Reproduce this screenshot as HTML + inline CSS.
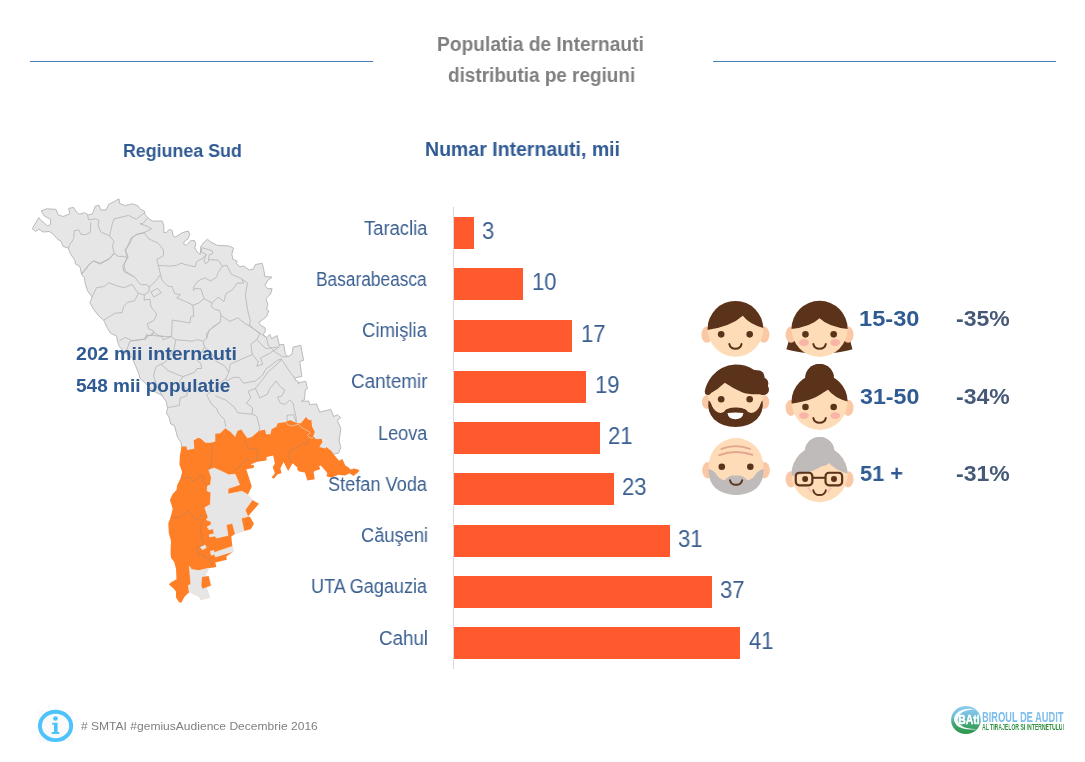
<!DOCTYPE html>
<html lang="ro">
<head>
<meta charset="utf-8">
<title>Populatia de Internauti - distributia pe regiuni</title>
<style>
html,body{margin:0;padding:0;background:#fff;}
body{width:1085px;height:762px;position:relative;overflow:hidden;font-family:"Liberation Sans",sans-serif;}
.t{position:absolute;margin:0;padding:0;white-space:nowrap;transform-origin:0 50%;font-weight:normal;will-change:transform;}
h1.t,h2.t{font-weight:bold;}
.rule{position:absolute;height:1px;background:#4a7ebb;}
.axis{position:absolute;width:1px;background:#d9d9d9;}
.bar{position:absolute;background:#ff5a2d;}
svg{position:absolute;left:0;top:0;overflow:visible;}
</style>
</head>
<body>
<header>
<div class="rule" style="left:30px;width:343px;top:61px"></div>
<div class="rule" style="left:713px;width:343px;top:61px"></div>
<h1 class="t" style="left:436.73px;top:31.54px;font-size:19.5px;line-height:25px;color:#7f7f7f;transform:scaleX(0.9844);font-weight:bold;">Populatia de Internauti</h1>
<h1 class="t" style="left:448.02px;top:63.24px;font-size:19.5px;line-height:25px;color:#7f7f7f;transform:scaleX(0.9707);font-weight:bold;">distributia pe regiuni</h1>
</header>
<h2 class="t" style="left:123.02px;top:138.05px;font-size:19.2px;line-height:25px;color:#2f5a92;transform:scaleX(0.9284);font-weight:bold;">Regiunea Sud</h2>
<h2 class="t" style="left:424.71px;top:136.51px;font-size:19.6px;line-height:25px;color:#2f5a92;transform:scaleX(0.9950);font-weight:bold;">Numar Internauti, mii</h2>
<section class="chart">
<div class="axis" style="left:453px;top:207px;height:462px"></div>
<div class="bar" style="left:453.6px;top:217.00px;width:20.30px;height:32px"></div>
<div class="t lab" style="left:363.59px;top:215.61px;font-size:19.6px;line-height:25px;color:#3a5f90;transform:scaleX(0.9400);">Taraclia</div>
<div class="t val" style="left:482.06px;top:216.13px;font-size:23px;line-height:30px;color:#3a5f90;transform:scaleX(0.9600);">3</div>
<div class="bar" style="left:453.6px;top:268.25px;width:69.85px;height:32px"></div>
<div class="t lab" style="left:316.38px;top:266.86px;font-size:19.6px;line-height:25px;color:#3a5f90;transform:scaleX(0.8835);">Basarabeasca</div>
<div class="t val" style="left:531.97px;top:267.38px;font-size:23px;line-height:30px;color:#3a5f90;transform:scaleX(0.9600);">10</div>
<div class="bar" style="left:453.6px;top:319.50px;width:118.75px;height:32px"></div>
<div class="t lab" style="left:362.07px;top:318.11px;font-size:19.6px;line-height:25px;color:#3a5f90;transform:scaleX(0.9477);">Cimişlia</div>
<div class="t val" style="left:580.87px;top:318.63px;font-size:23px;line-height:30px;color:#3a5f90;transform:scaleX(0.9600);">17</div>
<div class="bar" style="left:453.6px;top:370.75px;width:132.72px;height:32px"></div>
<div class="t lab" style="left:350.86px;top:369.36px;font-size:19.6px;line-height:25px;color:#3a5f90;transform:scaleX(0.9626);">Cantemir</div>
<div class="t val" style="left:594.84px;top:369.88px;font-size:23px;line-height:30px;color:#3a5f90;transform:scaleX(0.9600);">19</div>
<div class="bar" style="left:453.6px;top:422.00px;width:146.69px;height:32px"></div>
<div class="t lab" style="left:377.82px;top:420.61px;font-size:19.6px;line-height:25px;color:#3a5f90;transform:scaleX(0.9227);">Leova</div>
<div class="t val" style="left:608.18px;top:421.13px;font-size:23px;line-height:30px;color:#3a5f90;transform:scaleX(0.9600);">21</div>
<div class="bar" style="left:453.6px;top:473.25px;width:160.66px;height:32px"></div>
<div class="t lab" style="left:327.98px;top:471.86px;font-size:19.6px;line-height:25px;color:#3a5f90;transform:scaleX(0.9279);">Stefan Voda</div>
<div class="t val" style="left:622.15px;top:472.38px;font-size:23px;line-height:30px;color:#3a5f90;transform:scaleX(0.9600);">23</div>
<div class="bar" style="left:453.6px;top:524.50px;width:216.53px;height:32px"></div>
<div class="t lab" style="left:361.29px;top:523.11px;font-size:19.6px;line-height:25px;color:#3a5f90;transform:scaleX(0.9322);">Căuşeni</div>
<div class="t val" style="left:678.30px;top:523.63px;font-size:23px;line-height:30px;color:#3a5f90;transform:scaleX(0.9600);">31</div>
<div class="bar" style="left:453.6px;top:575.75px;width:258.44px;height:32px"></div>
<div class="t lab" style="left:311.01px;top:574.36px;font-size:19.6px;line-height:25px;color:#3a5f90;transform:scaleX(0.9211);">UTA Gagauzia</div>
<div class="t val" style="left:720.21px;top:574.88px;font-size:23px;line-height:30px;color:#3a5f90;transform:scaleX(0.9600);">37</div>
<div class="bar" style="left:453.6px;top:627.00px;width:286.38px;height:32px"></div>
<div class="t lab" style="left:379.26px;top:625.61px;font-size:19.6px;line-height:25px;color:#3a5f90;transform:scaleX(0.9583);">Cahul</div>
<div class="t val" style="left:748.50px;top:626.13px;font-size:23px;line-height:30px;color:#3a5f90;transform:scaleX(0.9600);">41</div>
</section>
<section class="demo">
<div class="t" style="left:859.44px;top:304.34px;font-size:22.4px;line-height:29px;color:#2f5a92;transform:scaleX(1.0547);font-weight:bold;">15-30</div>
<div class="t" style="left:955.90px;top:304.34px;font-size:22.4px;line-height:29px;color:#465a78;transform:scaleX(1.0270);font-weight:bold;">-35%</div>
<div class="t" style="left:860.39px;top:381.94px;font-size:22.4px;line-height:29px;color:#2f5a92;transform:scaleX(1.0378);font-weight:bold;">31-50</div>
<div class="t" style="left:955.90px;top:381.94px;font-size:22.4px;line-height:29px;color:#465a78;transform:scaleX(1.0270);font-weight:bold;">-34%</div>
<div class="t" style="left:860.25px;top:458.54px;font-size:22.4px;line-height:29px;color:#2f5a92;transform:scaleX(0.9707);font-weight:bold;">51 +</div>
<div class="t" style="left:955.90px;top:458.54px;font-size:22.4px;line-height:29px;color:#465a78;transform:scaleX(1.0270);font-weight:bold;">-31%</div>
<svg class="faces" width="1085" height="762" viewBox="0 0 1085 762">
<defs>
<clipPath id="fc0"><circle cx="258" cy="248" r="178"/></clipPath>
<clipPath id="fc1"><circle cx="795" cy="248" r="179"/></clipPath>
<clipPath id="fc2"><circle cx="795" cy="267" r="179"/></clipPath>
<clipPath id="fc3"><circle cx="795" cy="282" r="179"/></clipPath>
</defs>
<g transform="translate(695,290) scale(0.15669)"><ellipse cx="76" cy="285" rx="35" ry="52" fill="#fbc8a5"/><ellipse cx="440" cy="285" rx="35" ry="52" fill="#fbc8a5"/><circle cx="258" cy="248" r="178" fill="#fedcb7"/><path clip-path="url(#fc0)" d="M60,258 Q225,238 305,165 Q355,228 460,248 L460,40 L60,40 Z" fill="#5b321a"/><circle cx="167" cy="283" r="21" fill="#5b321a"/><circle cx="349" cy="283" r="21" fill="#5b321a"/><path d="M219,345 Q225,375 258,375 Q291,375 297,345" fill="none" stroke="#5b321a" stroke-width="12.5" stroke-linecap="round"/></g>
<g transform="translate(695,290) scale(0.15669)"><path d="M612,235 Q604,320 583,378 Q640,396 720,402 L720,250 Z" fill="#5b321a"/><path d="M978,235 Q986,320 1005,378 Q950,396 870,402 L870,250 Z" fill="#5b321a"/><ellipse cx="613" cy="285" rx="35" ry="52" fill="#fbc8a5"/><ellipse cx="977" cy="285" rx="35" ry="52" fill="#fbc8a5"/><circle cx="795" cy="248" r="179" fill="#fedcb7"/><path clip-path="url(#fc1)" d="M600,250 Q735,238 795,180 Q855,238 990,250 L990,40 L600,40 Z" fill="#5b321a"/><ellipse cx="695" cy="335" rx="31" ry="22" fill="#f9b4a8"/><ellipse cx="895" cy="335" rx="31" ry="22" fill="#f9b4a8"/><circle cx="705" cy="283" r="21" fill="#5b321a"/><circle cx="885" cy="283" r="21" fill="#5b321a"/><path d="M755,345 Q761,375 795,375 Q829,375 835,345" fill="none" stroke="#5b321a" stroke-width="12.5" stroke-linecap="round"/></g>
<g transform="translate(695,360) scale(0.15669)"><ellipse cx="78" cy="268" rx="34" ry="45" fill="#fbc8a5"/><ellipse cx="440" cy="268" rx="34" ry="45" fill="#fbc8a5"/><circle cx="258" cy="240" r="176" fill="#fedcb7"/><path d="M86,258 Q98,262 110,296 Q130,336 165,338 Q186,336 198,316 Q226,301 260,303 Q294,301 324,316 Q336,336 357,338 Q392,336 412,296 Q424,262 432,258 Q440,330 395,378 Q340,428 258,428 Q176,428 121,378 Q76,330 86,258 Z" fill="#5b321a"/><path d="M207,338 Q258,332 309,338 Q303,378 258,378 Q213,378 207,338 Z" fill="#ffffff"/><path d="M62,202 Q70,150 110,100 Q165,35 255,28 Q330,28 375,62 Q410,66 425,98 Q450,118 454,152 Q474,178 466,204 Q452,226 420,218 Q340,222 300,206 Q235,176 190,145 Q150,185 100,212 Q74,224 64,204 Z" fill="#5b321a"/><circle cx="402" cy="108" r="42" fill="#5b321a"/><circle cx="428" cy="150" r="40" fill="#5b321a"/><circle cx="436" cy="188" r="36" fill="#5b321a"/><circle cx="82" cy="204" r="19" fill="#5b321a"/><circle cx="167" cy="250" r="21" fill="#5b321a"/><circle cx="349" cy="250" r="21" fill="#5b321a"/></g>
<g transform="translate(695,360) scale(0.15669)"><circle cx="795" cy="116" r="91" fill="#5b321a"/><ellipse cx="613" cy="305" rx="35" ry="52" fill="#fbc8a5"/><ellipse cx="977" cy="305" rx="35" ry="52" fill="#fbc8a5"/><circle cx="795" cy="267" r="179" fill="#fedcb7"/><path clip-path="url(#fc2)" d="M600,280 Q770,262 845,185 Q895,250 990,268 L990,60 L600,60 Z" fill="#5b321a"/><circle cx="795" cy="116" r="91" fill="#5b321a"/><ellipse cx="695" cy="355" rx="31" ry="22" fill="#f9b4a8"/><ellipse cx="895" cy="355" rx="31" ry="22" fill="#f9b4a8"/><circle cx="705" cy="300" r="21" fill="#5b321a"/><circle cx="885" cy="300" r="21" fill="#5b321a"/><path d="M755,370 Q761,400 795,400 Q829,400 835,370" fill="none" stroke="#5b321a" stroke-width="12.5" stroke-linecap="round"/></g>
<g transform="translate(695,430) scale(0.15669)"><ellipse cx="81" cy="257" rx="35" ry="52" fill="#fbc8a5"/><ellipse cx="443" cy="257" rx="35" ry="52" fill="#fbc8a5"/><ellipse cx="262" cy="232" rx="175" ry="181" fill="#fedcb7"/><path d="M86,250 Q112,252 130,275 Q160,322 188,320 Q210,296 235,290 L289,290 Q314,296 336,320 Q364,322 394,275 Q412,252 438,250 Q440,322 395,370 Q340,415 262,415 Q184,415 129,370 Q84,322 86,250 Z" fill="#bfbbba"/><path d="M168,121 Q260,85 351,120" fill="none" stroke="#e0a690" stroke-width="12" stroke-linecap="round"/><path d="M155,160 Q260,121 366,158" fill="none" stroke="#e0a690" stroke-width="12" stroke-linecap="round"/><circle cx="171" cy="235" r="21" fill="#5b321a"/><circle cx="353" cy="235" r="21" fill="#5b321a"/><path d="M223,320 Q229,350 262,350 Q295,350 301,320" fill="none" stroke="#5b321a" stroke-width="12.5" stroke-linecap="round"/></g>
<g transform="translate(695,430) scale(0.15669)"><circle cx="795" cy="139" r="94" fill="#bfbbba"/><rect x="706" y="139" width="178" height="60" fill="#bfbbba"/><ellipse cx="613" cy="315" rx="35" ry="52" fill="#fbc8a5"/><ellipse cx="977" cy="315" rx="35" ry="52" fill="#fbc8a5"/><circle cx="795" cy="282" r="179" fill="#fedcb7"/><path clip-path="url(#fc3)" d="M600,295 Q770,278 845,200 Q895,262 990,282 L990,60 L600,60 Z" fill="#bfbbba"/><circle cx="795" cy="139" r="94" fill="#bfbbba"/><rect x="706" y="139" width="178" height="60" fill="#bfbbba"/><path d="M722,372 Q735,380 740,398" fill="none" stroke="#f9b4a8" stroke-width="7" stroke-linecap="round"/><path d="M868,372 Q855,380 850,398" fill="none" stroke="#f9b4a8" stroke-width="7" stroke-linecap="round"/><circle cx="703" cy="313" r="19" fill="#5b321a"/><circle cx="887" cy="313" r="19" fill="#5b321a"/><rect x="643" y="273" width="106" height="80" rx="22" fill="none" stroke="#5b321a" stroke-width="14"/><rect x="833" y="273" width="106" height="80" rx="22" fill="none" stroke="#5b321a" stroke-width="14"/><path d="M750,305 L832,305" stroke="#5b321a" stroke-width="13"/><path d="M755,385 Q761,415 795,415 Q829,415 835,385" fill="none" stroke="#5b321a" stroke-width="12.5" stroke-linecap="round"/></g>
</svg>
</section>
<section class="map">
<svg class="mapsvg" width="1085" height="762" viewBox="0 0 1085 762">
<polygon points="32.2,228.7 38.8,217.7 41.1,220.4 44.4,223.2 47.7,226.0 50.5,224.3 50.5,219.3 44.4,216.0 41.1,211.0 46.6,208.8 56.0,209.4 58.2,214.9 63.2,216.5 69.8,213.8 68.7,208.3 73.7,207.5 76.5,212.1 79.2,214.3 84.2,212.7 88.6,214.9 92.5,213.8 95.3,206.0 99.1,205.5 100.8,209.9 106.3,209.9 108.5,204.4 114.1,201.6 119.0,198.8 119.6,203.3 125.1,205.5 132.9,203.8 137.9,206.0 140.6,209.4 144.4,211.1 145.0,214.4 147.7,217.7 152.2,221.0 162.1,221.0 163.8,225.4 163.8,232.6 166.5,232.6 169.3,229.3 172.1,230.4 173.2,236.0 175.4,237.1 182.6,232.6 188.1,231.0 189.8,234.3 188.1,238.7 184.2,241.5 183.7,244.2 186.5,245.4 190.3,240.9 194.2,240.4 195.9,243.7 194.8,247.6 197.0,252.0 200.3,254.2 200.8,246.5 204.2,242.0 207.5,239.3 210.8,242.0 217.4,245.4 228.5,245.9 233.5,248.1 231.8,254.2 232.9,259.2 237.3,261.4 236.2,263.6 240.1,266.9 243.4,265.8 249.5,270.2 253.6,268.8 255.3,264.5 262.2,263.3 263.8,269.9 264.9,276.5 272.1,277.1 267.7,280.4 264.9,285.4 267.7,288.7 272.1,288.7 270.5,294.2 266.0,298.7 267.7,304.2 266.6,309.7 268.8,310.8 266.6,316.4 258.8,322.5 261.0,325.5 265.0,327.7 265.4,331.6 263.2,334.4 266.5,337.7 269.9,334.4 271.5,338.8 277.1,335.5 279.3,344.9 283.7,344.3 285.4,354.3 288.1,356.5 292.0,354.3 293.1,347.1 300.8,345.4 303.6,360.4 299.7,361.5 301.9,376.4 294.8,378.1 295.3,380.3 298.1,381.4 298.6,384.2 299.2,382.5 305.8,381.4 307.5,388.6 305.3,389.7 304.5,399.5 301.5,401.2 308.7,401.1 309.8,404.9 316.4,403.8 319.7,412.1 330.8,409.4 333.6,416.5 337.4,414.9 340.8,417.7 337.4,420.4 340.8,428.7 339.1,440.9 340.8,447.5 338.5,453.1 333.6,454.2 318.0,456.0 300.0,452.0 260.0,450.0 200.0,453.0 184.0,453.0 181.6,446.5 181.0,442.1 177.7,437.7 174.4,425.5 170.8,424.0 169.1,417.4 166.4,413.0 167.5,408.6 166.4,401.9 161.9,395.3 155.3,392.0 148.7,386.5 144.2,382.0 139.8,378.2 138.7,373.2 135.4,365.4 132.1,357.7 125.4,353.3 119.4,346.6 117.5,341.5 116.4,335.8 110.9,333.6 107.6,328.6 103.7,320.3 98.2,315.3 93.2,308.7 89.9,302.6 92.1,297.1 87.7,291.0 85.4,284.3 84.3,277.7 81.6,274.4 79.9,266.6 75.5,263.9 74.9,260.5 70.3,253.6 68.2,248.1 63.2,246.4 61.0,241.4 57.1,238.7 53.2,234.2 49.4,231.5 43.3,232.0 38.8,229.3 35.5,231.5" fill="#e6e6e6" stroke="#b3b3b3" stroke-width="0.9" stroke-linejoin="round"/>
<polyline points="87.5,214.9 88.6,219.9 95.3,218.8 99.1,220.4 98.0,225.4 100.8,232.0 109.6,235.9 114.1,241.4 112.4,245.3 114.1,253.6 109.6,258.0 103.0,262.5 99.7,264.1 93.6,260.8 87.5,266.3 82.0,273.0" fill="none" stroke="#b4b4b4" stroke-width="0.8" stroke-linejoin="round"/>
<polyline points="90.8,222.1 90.3,232.6 85.3,234.8 80.9,234.2 78.7,229.8 74.2,230.9 73.7,238.7 69.3,245.3 68.6,248.5" fill="none" stroke="#b4b4b4" stroke-width="0.8" stroke-linejoin="round"/>
<polyline points="109.6,235.9 111.9,225.4 114.1,218.8 121.8,217.1 128.5,215.4 136.2,219.3 144.5,212.7" fill="none" stroke="#b4b4b4" stroke-width="0.8" stroke-linejoin="round"/>
<polyline points="114.1,253.6 118.5,256.4 124.0,256.4 127.3,257.5 124.0,265.2 125.1,270.8 129.6,274.0 134.7,277.2" fill="none" stroke="#b4b4b4" stroke-width="0.8" stroke-linejoin="round"/>
<polyline points="127.3,257.5 125.1,249.7 129.6,244.2 132.3,237.6 137.3,234.2 143.9,232.6 145.0,232.1 151.6,228.8" fill="none" stroke="#b4b4b4" stroke-width="0.8" stroke-linejoin="round"/>
<polyline points="147.7,217.7 143.3,223.2 140.0,223.8 146.6,226.0 151.6,228.8" fill="none" stroke="#b4b4b4" stroke-width="0.8" stroke-linejoin="round"/>
<polyline points="144.2,233.0 148.7,238.8 158.3,243.3 163.4,249.9 163.4,255.8 156.8,259.5 158.3,265.4 160.5,274.2 155.3,281.6 149.4,286.8 146.5,284.6 140.6,284.6 134.7,277.2 123.6,271.3 122.9,265.4 128.0,257.3 125.8,250.6 131.0,238.1 136.9,234.4 144.2,233.0" fill="none" stroke="#b4b4b4" stroke-width="0.8" stroke-linejoin="round"/>
<polyline points="144.2,233.0 145.0,232.1" fill="none" stroke="#b4b4b4" stroke-width="0.8" stroke-linejoin="round"/>
<polyline points="158.3,265.4 169.3,266.1 176.7,265.4 181.1,263.2 188.5,265.4 195.1,266.9 196.6,261.7 203.2,258.0 206.2,254.3" fill="none" stroke="#b4b4b4" stroke-width="0.8" stroke-linejoin="round"/>
<polyline points="206.2,254.3 201.2,252.0 201.8,247.7 212.1,250.6 212.8,253.6 209.1,255.1 208.4,261.7 205.5,263.9 204.0,260.2 206.2,254.3" fill="none" stroke="#b4b4b4" stroke-width="0.8" stroke-linejoin="round"/>
<polyline points="209.1,259.5 218.0,260.2 222.4,266.1 226.8,265.4 231.3,274.2 241.6,278.7 247.5,283.1 245.3,294.9 247.5,309.6 250.4,321.4 249.0,325.9 260.0,333.2 266.5,337.7" fill="none" stroke="#b4b4b4" stroke-width="0.8" stroke-linejoin="round"/>
<polyline points="222.4,266.1 218.0,272.8 216.5,277.2 210.6,280.9 204.7,277.9 198.1,280.9 193.7,286.8 193.7,290.5 195.1,288.3 201.0,289.0 204.0,298.6" fill="none" stroke="#b4b4b4" stroke-width="0.8" stroke-linejoin="round"/>
<polyline points="160.5,274.2 161.9,280.1 167.8,286.0 172.3,286.8 174.5,293.4 180.4,294.9 176.7,297.8 185.5,301.5 192.9,305.2 198.8,303.0 204.0,298.6 212.1,303.0 218.0,297.1 223.9,301.5 226.1,293.4 232.7,289.7 237.2,283.1 243.8,283.1 241.6,278.7" fill="none" stroke="#b4b4b4" stroke-width="0.8" stroke-linejoin="round"/>
<polyline points="212.1,303.0 211.4,306.7 215.0,309.6 219.5,310.4 220.9,315.5 229.8,321.4 237.9,317.8 245.3,323.7 249.0,325.9" fill="none" stroke="#b4b4b4" stroke-width="0.8" stroke-linejoin="round"/>
<polyline points="192.9,305.2 193.7,316.3 190.7,317.0 190.0,322.9 172.3,320.0 171.5,336.2" fill="none" stroke="#b4b4b4" stroke-width="0.8" stroke-linejoin="round"/>
<polyline points="220.9,315.5 220.2,322.2 209.1,330.3 206.7,338.3" fill="none" stroke="#b4b4b4" stroke-width="0.8" stroke-linejoin="round"/>
<polyline points="149.4,286.8 148.7,291.9 144.2,294.9 144.2,300.1 150.1,299.3 150.9,306.7 156.8,314.1 153.8,320.7 147.2,323.7 148.7,328.8 153.8,331.0 152.4,335.5 161.9,336.2 163.4,339.9 171.5,336.2" fill="none" stroke="#b4b4b4" stroke-width="0.8" stroke-linejoin="round"/>
<polyline points="150.9,291.9 157.5,288.3 161.2,292.7 153.8,297.1 150.9,291.9" fill="none" stroke="#b4b4b4" stroke-width="0.8" stroke-linejoin="round"/>
<polyline points="92.1,297.1 96.5,287.7 104.2,286.5 108.7,282.7 117.5,286.0 124.2,287.7 131.9,284.3 138.0,293.2 144.2,294.9" fill="none" stroke="#b4b4b4" stroke-width="0.8" stroke-linejoin="round"/>
<polyline points="138.3,293.4 134.7,300.8 127.3,302.3 123.6,306.7 122.1,312.6 114.7,313.3 103.7,320.3" fill="none" stroke="#b4b4b4" stroke-width="0.8" stroke-linejoin="round"/>
<polyline points="93.2,260.8 100.0,263.2 108.8,259.5 114.0,253.6" fill="none" stroke="#b4b4b4" stroke-width="0.8" stroke-linejoin="round"/>
<polyline points="81.6,274.4 86.5,268.8 88.8,264.4 93.6,260.8" fill="none" stroke="#b4b4b4" stroke-width="0.8" stroke-linejoin="round"/>
<polyline points="152.4,335.5 146.5,335.5 145.7,339.1 132.4,340.6 125.0,337.5 119.2,341.0" fill="none" stroke="#b4b4b4" stroke-width="0.8" stroke-linejoin="round"/>
<polyline points="125.4,353.3 130.0,341.2 144.7,339.0 147.0,333.8" fill="none" stroke="#b4b4b4" stroke-width="0.8" stroke-linejoin="round"/>
<polyline points="144.7,339.0 153.6,332.4 159.5,336.1 171.3,336.8" fill="none" stroke="#b4b4b4" stroke-width="0.8" stroke-linejoin="round"/>
<polyline points="171.3,336.8 175.7,339.7 191.9,341.2 197.8,339.7 203.0,341.2 206.7,338.3 206.7,333.1 212.6,327.2 220.2,322.2" fill="none" stroke="#b4b4b4" stroke-width="0.8" stroke-linejoin="round"/>
<polyline points="203.0,341.2 204.5,347.1 209.6,351.5 217.0,361.9 224.4,365.6 228.8,372.2 225.9,378.8 227.3,381.0" fill="none" stroke="#b4b4b4" stroke-width="0.8" stroke-linejoin="round"/>
<polyline points="175.7,339.7 174.2,348.6 165.4,361.9 161.0,364.1 155.8,367.0 153.6,375.9 157.3,386.9 163.0,397.0" fill="none" stroke="#b4b4b4" stroke-width="0.8" stroke-linejoin="round"/>
<polyline points="161.0,364.1 168.3,370.7 178.7,375.1 183.1,376.6 194.9,372.2 197.1,368.5 201.5,368.5 200.8,363.3 197.1,360.4 204.5,347.1" fill="none" stroke="#b4b4b4" stroke-width="0.8" stroke-linejoin="round"/>
<polyline points="183.1,376.6 179.4,381.8 187.5,389.9 186.8,395.8 180.1,398.0 179.4,405.4 168.3,407.6" fill="none" stroke="#b4b4b4" stroke-width="0.8" stroke-linejoin="round"/>
<polyline points="225.9,378.8 218.5,384.0 212.6,389.9 206.7,395.1 211.9,404.6 217.0,409.1 218.5,413.5 224.4,419.4 225.9,426.8" fill="none" stroke="#b4b4b4" stroke-width="0.8" stroke-linejoin="round"/>
<polyline points="227.3,381.0 233.2,377.4 239.1,377.4 243.6,383.3 255.4,381.0 262.7,375.1 265.7,369.2 277.5,360.4 281.2,358.9 279.5,362.0 268.0,372.0 263.0,379.0 255.4,388.4" fill="none" stroke="#b4b4b4" stroke-width="0.8" stroke-linejoin="round"/>
<polyline points="215.5,395.8 225.9,400.2 234.7,407.6 237.7,412.8 252.4,414.2 256.8,416.4 259.8,428.2 258.3,432.0" fill="none" stroke="#b4b4b4" stroke-width="0.8" stroke-linejoin="round"/>
<polyline points="252.4,414.2 252.4,407.6 246.5,403.2 250.9,397.3 248.0,391.4 255.4,388.4 259.8,398.0 267.2,394.3 270.1,388.4 276.0,381.0 280.4,386.9 284.9,389.9 281.9,395.8 277.5,397.3 280.4,403.2 284.9,404.4 289.9,400.0 293.2,403.3 294.3,409.9 296.0,416.5 296.5,422.6" fill="none" stroke="#b4b4b4" stroke-width="0.8" stroke-linejoin="round"/>
<polyline points="249.5,325.0 259.8,333.8 256.8,339.7 250.9,344.2 252.4,354.5 258.3,361.9 256.8,366.3 262.7,364.1 260.5,358.2 270.1,353.0 279.0,347.1 279.3,344.9" fill="none" stroke="#b4b4b4" stroke-width="0.8" stroke-linejoin="round"/>
<polyline points="256.8,339.7 265.7,348.6 277.5,347.1" fill="none" stroke="#b4b4b4" stroke-width="0.8" stroke-linejoin="round"/>
<polyline points="252.4,354.5 230.3,364.1 228.8,372.2" fill="none" stroke="#b4b4b4" stroke-width="0.8" stroke-linejoin="round"/>
<polyline points="287.1,422.1 287.1,415.4 293.7,414.6 296.0,422.1" fill="none" stroke="#b4b4b4" stroke-width="0.8" stroke-linejoin="round"/>
<polyline points="266.5,337.7 268.0,345.0 275.0,352.0 283.0,357.0 288.1,356.5" fill="none" stroke="#b4b4b4" stroke-width="0.8" stroke-linejoin="round"/>
<polyline points="281.2,358.9 290.0,372.0 294.8,378.1" fill="none" stroke="#b4b4b4" stroke-width="0.8" stroke-linejoin="round"/>
<polygon points="181.6,446.5 186.5,446.5 187.1,449.9 194.3,448.8 193.7,440.5 198.2,437.7 200.9,438.8 205.4,442.7 211.4,442.7 215.3,441.6 215.3,433.8 220.3,433.3 225.3,428.3 230.8,432.2 235.2,437.1 237.4,431.1 241.3,429.4 244.1,433.8 247.4,438.3 251.8,437.1 257.3,432.2 260.0,430.4 265.0,429.8 266.1,434.2 270.5,434.2 271.6,429.3 276.6,426.5 277.7,423.2 286.0,422.1 287.7,421.0 290.3,420.3 293.2,421.5 297.1,423.2 300.9,423.2 304.2,419.3 305.9,417.1 308.7,419.9 311.4,419.9 312.0,426.5 314.8,432.0 313.1,436.5 316.4,439.2 321.4,438.7 322.5,442.0 319.2,447.0 325.3,448.6 326.4,447.0 331.9,451.4 333.6,454.2 339.1,460.8 342.4,459.1 345.2,465.2 348.5,467.4 350.7,469.6 354.0,468.5 357.9,469.6 359.6,470.6 357.9,472.6 353.4,476.0 349.6,473.2 345.1,475.4 338.5,474.8 331.9,477.6 328.0,477.1 326.3,475.4 327.4,473.2 325.2,470.4 320.8,465.4 319.1,466.0 320.2,469.3 314.7,471.0 313.6,472.1 314.7,479.3 307.5,480.4 304.8,472.6 299.2,471.5 297.0,469.3 297.6,467.7 292.6,463.2 288.2,471.0 286.5,467.7 283.7,462.1 280.4,468.2 281.5,473.2 277.7,474.3 273.8,478.7 271.6,477.6 274.9,473.2 272.7,467.1 274.9,463.8 273.2,455.5 266.6,457.1 266.4,460.4 257.0,461.7 250.5,464.6 254.0,465.3 253.8,468.0 246.3,469.2 251.8,486.4 247.9,494.7 252.3,500.0 259.0,503.8 247.9,516.5 250.1,517.1 254.0,523.7 250.7,529.3 244.0,530.9 235.2,533.7 231.3,536.5 232.4,546.4 233.5,551.4 226.3,556.4 226.9,559.7 215.3,562.5 216.4,566.9 213.1,567.4 208.6,568.3 205.3,576.0 208.6,576.0 211.4,585.4 206.4,587.6 209.7,597.6 200.9,599.8 199.2,596.5 189.3,592.0 184.3,597.0 181.5,602.5 179.3,602.5 176.0,597.6 176.0,591.5 173.8,588.7 168.8,584.3 171.6,582.1 176.5,579.3 176.0,568.8 174.3,562.2 171.0,557.7 170.5,551.9 171.0,540.9 168.8,533.1 168.3,523.2 170.5,517.7 172.7,508.8 169.9,500.0 172.7,493.9 176.5,490.0 177.1,485.3 180.5,478.6 182.1,472.0 179.4,464.2 179.9,455.4" fill="#ff7f27"/>
<polygon points="208.7,469.8 214.2,468.1 221.9,471.4 228.6,474.8 235.2,474.2 239.6,484.7 228.0,488.6 228.0,494.1 241.9,491.3 247.9,494.7 252.3,500.0 245.1,509.9 247.9,516.5 241.3,518.2 244.0,530.9 235.2,533.7 232.4,523.2 226.3,524.8 228.0,535.4 216.4,538.1 215.3,535.9 209.7,537.0 209.2,534.8 214.2,533.7 213.1,528.7 209.2,529.8 207.0,527.1 211.4,524.3 210.8,521.5 206.4,519.9 208.1,517.1 204.8,507.7 210.3,504.4 210.9,492.5 207.0,490.8 207.6,485.8 210.3,485.3 211.4,477.5" fill="#e6e6e6" stroke="#efefef" stroke-width="0.6"/>
<polygon points="232.4,546.4 233.5,551.4 215.3,556.9 214.2,552.5" fill="#e6e6e6" stroke="#efefef" stroke-width="0.6"/>
<polygon points="210.3,551.4 213.6,550.3 214.2,554.2 211.4,555.3" fill="#e6e6e6" stroke="#efefef" stroke-width="0.6"/>
<polygon points="200.3,547.0 204.8,544.8 206.4,547.5 202.5,549.7" fill="#e6e6e6" stroke="#efefef" stroke-width="0.6"/>
<polygon points="189.3,566.0 191.5,569.4 198.7,570.5 208.6,568.3 205.3,576.0 208.6,576.0 211.4,585.4 206.4,587.6 209.7,597.6 200.9,599.8 199.2,596.5 189.3,592.0 188.2,585.4 190.9,584.3" fill="#e6e6e6" stroke="#efefef" stroke-width="0.6"/>
<polygon points="202.0,577.1 208.6,576.0 210.8,585.4 202.5,588.7 201.4,585.4" fill="#ff7f27"/>
<polyline points="211.4,442.7 212.5,449.9 211.4,457.6 212.0,463.1 208.7,469.8" fill="none" stroke="#c9804d" stroke-width="0.8" stroke-linejoin="round"/>
<polyline points="244.6,439.9 248.5,448.8 256.2,448.8 257.3,453.2 257.3,461.5" fill="none" stroke="#c9804d" stroke-width="0.8" stroke-linejoin="round"/>
<polyline points="233.6,471.4 239.6,466.5 246.8,458.7 250.7,462.6" fill="none" stroke="#c9804d" stroke-width="0.8" stroke-linejoin="round"/>
<polyline points="180.5,478.6 189.9,477.0 192.1,481.4 197.6,478.6 200.9,475.3 204.2,477.5 202.6,481.4 207.6,485.3" fill="none" stroke="#c9804d" stroke-width="0.8" stroke-linejoin="round"/>
<polyline points="170.5,517.7 179.3,517.7 188.2,511.0 192.6,516.5 197.6,520.4 200.9,514.9 206.4,516.0" fill="none" stroke="#c9804d" stroke-width="0.8" stroke-linejoin="round"/>
<polyline points="203.1,521.5 200.3,527.6 201.4,538.7 204.2,544.8 196.5,547.5 198.7,555.3 204.2,554.7 205.3,558.0 209.7,559.1 213.1,567.4" fill="none" stroke="#c9804d" stroke-width="0.8" stroke-linejoin="round"/>
<polyline points="309.8,438.7 306.5,444.2 302.6,443.7 296.5,447.5 290.4,450.3 288.8,453.6 289.9,455.3 288.2,457.5 292.6,463.0" fill="none" stroke="#c9804d" stroke-width="0.8" stroke-linejoin="round"/>
<polyline points="286.0,422.6 287.7,424.8 292.1,426.0 298.2,424.3 302.0,427.6 308.7,431.5 310.3,432.6 307.6,435.4 309.8,438.1 313.1,438.1" fill="none" stroke="#e9c3a6" stroke-width="0.9" stroke-linejoin="round"/>
</svg>
<div class="t" style="left:75.83px;top:342.73px;font-size:17.8px;line-height:23px;color:#2f5a92;transform:scaleX(1.0999);font-weight:bold;">202 mii internauti</div>
<div class="t" style="left:75.93px;top:374.83px;font-size:17.8px;line-height:23px;color:#2f5a92;transform:scaleX(1.0693);font-weight:bold;">548 mii populatie</div>
</section>
<footer>
<svg class="info" width="1085" height="762" viewBox="0 0 1085 762">
<rect x="38" y="710" width="35" height="32" fill="#fafafa"/>
<ellipse cx="55.55" cy="725.9" rx="15.6" ry="14.2" fill="none" stroke="#4cc3fb" stroke-width="3.9"/>
<circle cx="55.5" cy="718.5" r="2.35" fill="#4cc3fb"/>
<path d="M52.2,722.7 H57.6 V731.9 H59.3 V734.1 H51.7 V731.9 H54 V724.7 H52.2 Z" fill="#4cc3fb"/>
</svg>
<div class="t" style="left:81.45px;top:718.82px;font-size:11.2px;line-height:15px;color:#7f7f7f;transform:scaleX(1.0767);"># SMTAI #gemiusAudience Decembrie 2016</div>
<svg class="logo" width="1085" height="762" viewBox="0 0 1085 762">
<defs><linearGradient id="lg" x1="0" y1="0" x2="0" y2="1">
<stop offset="0" stop-color="#8fcdee"/><stop offset="0.38" stop-color="#6fbcd8"/><stop offset="0.62" stop-color="#45a878"/><stop offset="1" stop-color="#2b9648"/></linearGradient>
<clipPath id="lc"><ellipse cx="965.9" cy="720" rx="14.8" ry="14.1"/></clipPath></defs>
<ellipse cx="965.9" cy="720" rx="14.8" ry="14.1" fill="url(#lg)"/>
<g clip-path="url(#lc)">
<path d="M975,709.2 Q962,707.6 956.2,713.8 Q951.6,719.6 956.8,725.4 Q963,730.6 977.5,729.2 Q965,729.3 959.8,724.6 Q955.6,719.6 959.6,714.4 Q964.5,709.6 975,709.2 Z" fill="#ffffff" opacity="0.95"/>
</g>
<text x="958.3" y="724.4" font-family="Liberation Sans, sans-serif" font-weight="bold" font-size="13" fill="#ffffff" textLength="21.4" lengthAdjust="spacingAndGlyphs" stroke="#ffffff" stroke-width="0.5">BAti</text>
</svg>
<div class="t" style="left:981.79px;top:707.64px;font-size:14.6px;line-height:19px;color:#7cbdec;transform:scaleX(0.6360);font-weight:bold;">BIROUL DE AUDIT</div>
<div class="t" style="left:982.08px;top:721.66px;font-size:8.2px;line-height:11px;color:#2f8f3e;transform:scaleX(0.6218);font-weight:bold;">AL TIRAJELOR SI INTERNETULUI</div>
</footer>
</body>
</html>
